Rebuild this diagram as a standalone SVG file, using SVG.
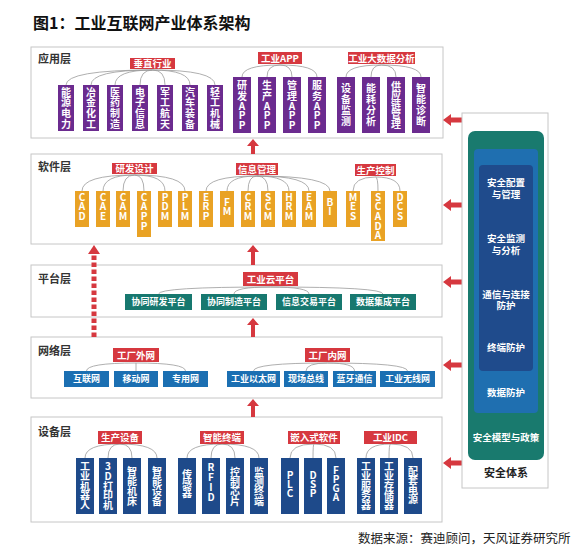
<svg xmlns="http://www.w3.org/2000/svg" width="579" height="550" viewBox="0 0 579 550">
<style>
text{font-family:"Noto Sans CJK SC","Noto Sans",sans-serif}
.lay{fill:#fff;stroke:#c6c6c6;stroke-width:1}
.lt{font-size:11px;font-weight:bold;fill:#333}
.tag{fill:#d6383f}
.tt{font-size:9.5px;font-weight:bold;fill:#fff;text-anchor:middle}
.pu{fill:#6b2b8f}
.or{fill:#e9a224}
.te{fill:#17786f}
.bl{fill:#1b6fb2}
.db{fill:#1e4a8a}
.vt{font-size:10px;font-weight:bold;fill:#fff;text-anchor:middle}
.ht{font-size:9px;font-weight:bold;fill:#fff;text-anchor:middle}
.cn{fill:none;stroke:#9a9a9a;stroke-width:0.8}
.arr{fill:#d6383f}
.st{font-size:9.5px;font-weight:bold;fill:#fff;text-anchor:middle}
</style>
<rect width="579" height="550" fill="#fff"/>
<text x="33" y="29" font-size="16" font-weight="bold" fill="#111">图1：工业互联网产业体系架构</text>

<!-- layers -->
<g id="layer-app"><rect class="lay" x="31" y="47" width="412" height="91"/><text class="lt" x="38" y="63">应用层</text></g>
<g id="layer-soft"><rect class="lay" x="31" y="154" width="411" height="90"/><text class="lt" x="38" y="171">软件层</text></g>
<g id="layer-plat"><rect class="lay" x="31" y="265" width="411" height="52"/><text class="lt" x="38" y="283">平台层</text></g>
<g id="layer-net"><rect class="lay" x="31" y="337" width="411" height="61"/><text class="lt" x="38" y="355">网络层</text></g>
<g id="layer-dev"><rect class="lay" x="31" y="417" width="411" height="105"/><text class="lt" x="38" y="436">设备层</text></g>

<!-- connectors -->
<g id="connectors">
<path class="cn" d="M152.5 70Q66 70 66 85M152.5 70Q91 70 91 85M152.5 70Q115 70 115 85M152.5 70Q140 70 140 85M152.5 70Q165 70 165 85M152.5 70Q190 70 190 85M152.5 70Q215 70 215 85"/>
<path class="cn" d="M280 65Q242 65 242 77M280 65Q267 65 267 77M280 65Q292 65 292 77M280 65Q317 65 317 77"/>
<path class="cn" d="M381.5 65Q346 65 346 77M381.5 65Q371 65 371 77M381.5 65Q396 65 396 77M381.5 65Q421 65 421 77"/>
<path class="cn" d="M134.5 175Q82 175 82 191M134.5 175Q103 175 103 191M134.5 175Q123 175 123 191M134.5 175Q144 175 144 191M134.5 175Q165 175 165 191M134.5 175Q185 175 185 191"/>
<path class="cn" d="M257 176Q206 176 206 191M257 176Q227 176 227 191M257 176Q248 176 248 191M257 176Q268 176 268 191M257 176Q289 176 289 191M257 176Q309 176 309 191M257 176Q330 176 330 191"/>
<path class="cn" d="M375.5 177Q353 177 353 191M375.5 177Q378 177 378 191M375.5 177Q400 177 400 191"/>
<path class="cn" d="M270.5 287Q158.5 287 158.5 294M270.5 287Q234 287 234 294M270.5 287Q309 287 309 294M270.5 287Q383 287 383 294"/>
<path class="cn" d="M136 363Q86.5 363 86.5 371M136 363L136 371M136 363Q185.5 363 185.5 371"/>
<path class="cn" d="M327.5 363Q253.5 363 253.5 371M327.5 363Q306 363 306 371M327.5 363Q354.5 363 354.5 371M327.5 363Q407.5 363 407.5 371"/>
<path class="cn" d="M120 444Q85 444 85 458M120 444Q108 444 108 458M120 444Q132 444 132 458M120 444Q157 444 157 458"/>
<path class="cn" d="M222 444Q187 444 187 458M222 444Q211 444 211 458M222 444Q235 444 235 458M222 444Q259 444 259 458"/>
<path class="cn" d="M314 444Q290 444 290 458M314 444Q313 444 313 458M314 444Q336 444 336 458"/>
<path class="cn" d="M390.5 444Q366 444 366 458M390.5 444Q389 444 389 458M390.5 444Q413 444 413 458"/>
<!-- up arrows -->
<polygon class="arr" points="253,139 247,146 251,146 251,154 255,154 255,146 259,146"/>
<polygon class="arr" points="253,245 247,252 251,252 251,265 255,265 255,252 259,252"/>
<polygon class="arr" points="253,318 247,325 251,325 251,337 255,337 255,325 259,325"/>
<polygon class="arr" points="253,399 247,406 251,406 251,417 255,417 255,406 259,406"/>
<line x1="94" y1="337" x2="94" y2="253" stroke="#d6383f" stroke-width="5" stroke-dasharray="4.5 2.5"/>
<polygon class="arr" points="94,245 88,254 100,254"/>
<!-- left arrows -->
<polygon class="arr" points="443,120 451,114 451,117.5 462,117.5 462,122.5 451,122.5 451,126"/>
<polygon class="arr" points="443,205 451,199 451,202.5 462,202.5 462,207.5 451,207.5 451,211"/>
<polygon class="arr" points="443,282 451,276 451,279.5 462,279.5 462,284.5 451,284.5 451,288"/>
<polygon class="arr" points="443,365 451,359 451,362.5 462,362.5 462,367.5 451,367.5 451,371"/>
<polygon class="arr" points="443,463 451,457 451,460.5 462,460.5 462,465.5 451,465.5 451,469"/>
</g>

<!-- application layer -->
<g id="tag-vertical"><rect class="tag" x="130" y="58" width="45" height="11"/><text class="tt" x="152.5" y="67">垂直行业</text></g>
<g id="app-1"><rect class="pu" x="58" y="85" width="16" height="46"/><text class="vt"><tspan x="66" y="95.5">能</tspan><tspan x="66" y="106.3">源</tspan><tspan x="66" y="117.1">电</tspan><tspan x="66" y="127.9">力</tspan></text></g>
<g id="app-2"><rect class="pu" x="83" y="85" width="16" height="46"/><text class="vt"><tspan x="91" y="95.5">冶</tspan><tspan x="91" y="106.3">金</tspan><tspan x="91" y="117.1">化</tspan><tspan x="91" y="127.9">工</tspan></text></g>
<g id="app-3"><rect class="pu" x="107" y="85" width="16" height="46"/><text class="vt"><tspan x="115" y="95.5">医</tspan><tspan x="115" y="106.3">药</tspan><tspan x="115" y="117.1">制</tspan><tspan x="115" y="127.9">造</tspan></text></g>
<g id="app-4"><rect class="pu" x="132" y="85" width="16" height="46"/><text class="vt"><tspan x="140" y="95.5">电</tspan><tspan x="140" y="106.3">子</tspan><tspan x="140" y="117.1">信</tspan><tspan x="140" y="127.9">息</tspan></text></g>
<g id="app-5"><rect class="pu" x="157" y="85" width="16" height="46"/><text class="vt"><tspan x="165" y="95.5">军</tspan><tspan x="165" y="106.3">工</tspan><tspan x="165" y="117.1">航</tspan><tspan x="165" y="127.9">天</tspan></text></g>
<g id="app-6"><rect class="pu" x="182" y="85" width="16" height="46"/><text class="vt"><tspan x="190" y="95.5">汽</tspan><tspan x="190" y="106.3">车</tspan><tspan x="190" y="117.1">装</tspan><tspan x="190" y="127.9">备</tspan></text></g>
<g id="app-7"><rect class="pu" x="207" y="85" width="16" height="46"/><text class="vt"><tspan x="215" y="95.5">轻</tspan><tspan x="215" y="106.3">工</tspan><tspan x="215" y="117.1">机</tspan><tspan x="215" y="127.9">械</tspan></text></g>

<g id="tag-app"><rect class="tag" x="258" y="52" width="44" height="12"/><text class="tt" x="280" y="61.5">工业APP</text></g>
<g id="app-rd"><rect class="pu" x="233" y="77" width="18" height="56"/><text class="vt"><tspan x="242" y="89">研</tspan><tspan x="242" y="99.5">发</tspan><tspan x="242" y="109.5">A</tspan><tspan x="242" y="119">P</tspan><tspan x="242" y="128.5">P</tspan></text></g>
<g id="app-prod"><rect class="pu" x="258" y="77" width="18" height="56"/><text class="vt"><tspan x="267" y="89">生</tspan><tspan x="267" y="99.5">产</tspan><tspan x="267" y="109.5">A</tspan><tspan x="267" y="119">P</tspan><tspan x="267" y="128.5">P</tspan></text></g>
<g id="app-mgmt"><rect class="pu" x="283" y="77" width="18" height="56"/><text class="vt"><tspan x="292" y="89">管</tspan><tspan x="292" y="99.5">理</tspan><tspan x="292" y="109.5">A</tspan><tspan x="292" y="119">P</tspan><tspan x="292" y="128.5">P</tspan></text></g>
<g id="app-svc"><rect class="pu" x="308" y="77" width="18" height="56"/><text class="vt"><tspan x="317" y="89">服</tspan><tspan x="317" y="99.5">务</tspan><tspan x="317" y="109.5">A</tspan><tspan x="317" y="119">P</tspan><tspan x="317" y="128.5">P</tspan></text></g>

<g id="tag-bigdata"><rect class="tag" x="348" y="52" width="67" height="12"/><text class="tt" x="381.5" y="61.5">工业大数据分析</text></g>
<g id="bd-1"><rect class="pu" x="337" y="77" width="18" height="56"/><text class="vt"><tspan x="346" y="92">设</tspan><tspan x="346" y="103">备</tspan><tspan x="346" y="114">监</tspan><tspan x="346" y="125">测</tspan></text></g>
<g id="bd-2"><rect class="pu" x="362" y="77" width="18" height="56"/><text class="vt"><tspan x="371" y="92">能</tspan><tspan x="371" y="103">耗</tspan><tspan x="371" y="114">分</tspan><tspan x="371" y="125">析</tspan></text></g>
<g id="bd-3"><rect class="pu" x="387" y="77" width="18" height="56"/><text class="vt" font-size="9.5"><tspan x="396" y="89.5">供</tspan><tspan x="396" y="99.1">应</tspan><tspan x="396" y="108.7">链</tspan><tspan x="396" y="118.3">管</tspan><tspan x="396" y="127.9">理</tspan></text></g>
<g id="bd-4"><rect class="pu" x="412" y="77" width="18" height="56"/><text class="vt"><tspan x="421" y="92">智</tspan><tspan x="421" y="103">能</tspan><tspan x="421" y="114">诊</tspan><tspan x="421" y="125">断</tspan></text></g>

<!-- software layer -->
<g id="tag-rd"><rect class="tag" x="112" y="163" width="45" height="11"/><text class="tt" x="134.5" y="172">研发设计</text></g>
<g id="sw-cad"><rect class="or" x="75" y="191" width="14" height="36"/><text class="vt"><tspan x="82" y="200.6">C</tspan><tspan x="82" y="210.3">A</tspan><tspan x="82" y="220">D</tspan></text></g>
<g id="sw-cae"><rect class="or" x="96" y="191" width="14" height="36"/><text class="vt"><tspan x="103" y="200.6">C</tspan><tspan x="103" y="210.3">A</tspan><tspan x="103" y="220">E</tspan></text></g>
<g id="sw-cam"><rect class="or" x="116" y="191" width="14" height="36"/><text class="vt"><tspan x="123" y="200.6">C</tspan><tspan x="123" y="210.3">A</tspan><tspan x="123" y="220">M</tspan></text></g>
<g id="sw-capp"><rect class="or" x="137" y="191" width="14" height="46"/><text class="vt"><tspan x="144" y="200.6">C</tspan><tspan x="144" y="210.3">A</tspan><tspan x="144" y="220">P</tspan><tspan x="144" y="229.7">P</tspan></text></g>
<g id="sw-pdm"><rect class="or" x="158" y="191" width="14" height="36"/><text class="vt"><tspan x="165" y="200.6">P</tspan><tspan x="165" y="210.3">D</tspan><tspan x="165" y="220">M</tspan></text></g>
<g id="sw-plm"><rect class="or" x="178" y="191" width="14" height="36"/><text class="vt"><tspan x="185" y="200.6">P</tspan><tspan x="185" y="210.3">L</tspan><tspan x="185" y="220">M</tspan></text></g>

<g id="tag-info"><rect class="tag" x="236" y="163" width="42" height="12"/><text class="tt" x="257" y="172.5">信息管理</text></g>
<g id="sw-erp"><rect class="or" x="199" y="191" width="14" height="36"/><text class="vt"><tspan x="206" y="200.6">E</tspan><tspan x="206" y="210.3">R</tspan><tspan x="206" y="220">P</tspan></text></g>
<g id="sw-fm"><rect class="or" x="220" y="191" width="14" height="36"/><text class="vt"><tspan x="227" y="205.6">F</tspan><tspan x="227" y="215.3">M</tspan></text></g>
<g id="sw-crm"><rect class="or" x="241" y="191" width="14" height="36"/><text class="vt"><tspan x="248" y="200.6">C</tspan><tspan x="248" y="210.3">R</tspan><tspan x="248" y="220">M</tspan></text></g>
<g id="sw-scm"><rect class="or" x="261" y="191" width="14" height="36"/><text class="vt"><tspan x="268" y="200.6">S</tspan><tspan x="268" y="210.3">C</tspan><tspan x="268" y="220">M</tspan></text></g>
<g id="sw-hrm"><rect class="or" x="282" y="191" width="14" height="36"/><text class="vt"><tspan x="289" y="200.6">H</tspan><tspan x="289" y="210.3">R</tspan><tspan x="289" y="220">M</tspan></text></g>
<g id="sw-eam"><rect class="or" x="302" y="191" width="14" height="36"/><text class="vt"><tspan x="309" y="200.6">E</tspan><tspan x="309" y="210.3">A</tspan><tspan x="309" y="220">M</tspan></text></g>
<g id="sw-bi"><rect class="or" x="323" y="191" width="14" height="36"/><text class="vt"><tspan x="330" y="205.6">B</tspan><tspan x="330" y="215.3">I</tspan></text></g>

<g id="tag-ctrl"><rect class="tag" x="355" y="164" width="41" height="12"/><text class="tt" x="375.5" y="173.5">生产控制</text></g>
<g id="sw-mes"><rect class="or" x="346" y="191" width="14" height="36"/><text class="vt"><tspan x="353" y="200.6">M</tspan><tspan x="353" y="210.3">E</tspan><tspan x="353" y="220">S</tspan></text></g>
<g id="sw-scada"><rect class="or" x="371" y="191" width="14" height="50"/><text class="vt"><tspan x="378" y="200.6">S</tspan><tspan x="378" y="210.3">C</tspan><tspan x="378" y="220">A</tspan><tspan x="378" y="229.7">D</tspan><tspan x="378" y="239.4">A</tspan></text></g>
<g id="sw-dcs"><rect class="or" x="393" y="191" width="14" height="36"/><text class="vt"><tspan x="400" y="200.6">D</tspan><tspan x="400" y="210.3">C</tspan><tspan x="400" y="220">S</tspan></text></g>

<!-- platform layer -->
<g id="tag-cloud"><rect class="tag" x="243" y="272" width="55" height="14"/><text class="tt" x="270.5" y="282.5" font-size="10">工业云平台</text></g>
<g id="pf-1"><rect class="te" x="125" y="294" width="67" height="16"/><text class="ht" x="158.5" y="305.3">协同研发平台</text></g>
<g id="pf-2"><rect class="te" x="201" y="294" width="66" height="16"/><text class="ht" x="234" y="305.3">协同制造平台</text></g>
<g id="pf-3"><rect class="te" x="276" y="294" width="66" height="16"/><text class="ht" x="309" y="305.3">信息交易平台</text></g>
<g id="pf-4"><rect class="te" x="350" y="294" width="66" height="16"/><text class="ht" x="383" y="305.3">数据集成平台</text></g>

<!-- network layer -->
<g id="tag-ext"><rect class="tag" x="113" y="348" width="46" height="14"/><text class="tt" x="136" y="358.5">工厂外网</text></g>
<g id="nw-1"><rect class="bl" x="64" y="371" width="45" height="16"/><text class="ht" x="86.5" y="382.3">互联网</text></g>
<g id="nw-2"><rect class="bl" x="114" y="371" width="44" height="16"/><text class="ht" x="136" y="382.3">移动网</text></g>
<g id="nw-3"><rect class="bl" x="163" y="371" width="45" height="16"/><text class="ht" x="185.5" y="382.3">专用网</text></g>
<g id="tag-int"><rect class="tag" x="305" y="348" width="45" height="14"/><text class="tt" x="327.5" y="358.5">工厂内网</text></g>
<g id="nw-4"><rect class="bl" x="227" y="371" width="53" height="16"/><text class="ht" x="253.5" y="382.3">工业以太网</text></g>
<g id="nw-5"><rect class="bl" x="284" y="371" width="44" height="16"/><text class="ht" x="306" y="382.3">现场总线</text></g>
<g id="nw-6"><rect class="bl" x="333" y="371" width="43" height="16"/><text class="ht" x="354.5" y="382.3">蓝牙通信</text></g>
<g id="nw-7"><rect class="bl" x="380" y="371" width="55" height="16"/><text class="ht" x="407.5" y="382.3">工业无线网</text></g>

<!-- device layer -->
<g id="tag-prod"><rect class="tag" x="98" y="431" width="44" height="13"/><text class="tt" x="120" y="441">生产设备</text></g>
<g id="dv-1"><rect class="db" x="76" y="458" width="18" height="56"/><text class="vt" font-size="9.5"><tspan x="85" y="470">工</tspan><tspan x="85" y="479.8">业</tspan><tspan x="85" y="489.6">机</tspan><tspan x="85" y="499.4">器</tspan><tspan x="85" y="509.2">人</tspan></text></g>
<g id="dv-2"><rect class="db" x="99" y="458" width="18" height="56"/><text class="vt" font-size="9.5"><tspan x="108" y="470">3</tspan><tspan x="108" y="479.8">D</tspan><tspan x="108" y="489.6">打</tspan><tspan x="108" y="499.4">印</tspan><tspan x="108" y="509.2">机</tspan></text></g>
<g id="dv-3"><rect class="db" x="123" y="458" width="18" height="56"/><text class="vt"><tspan x="132" y="474.6">智</tspan><tspan x="132" y="484.6">能</tspan><tspan x="132" y="494.6">机</tspan><tspan x="132" y="504.6">床</tspan></text></g>
<g id="dv-4"><rect class="db" x="148" y="458" width="18" height="56"/><text class="vt"><tspan x="157" y="474.6">智</tspan><tspan x="157" y="484.6">能</tspan><tspan x="157" y="494.6">设</tspan><tspan x="157" y="504.6">备</tspan></text></g>

<g id="tag-term"><rect class="tag" x="200" y="431" width="44" height="13"/><text class="tt" x="222" y="441">智能终端</text></g>
<g id="dv-5"><rect class="db" x="178" y="458" width="18" height="56"/><text class="vt"><tspan x="187" y="477.6">传</tspan><tspan x="187" y="487.2">感</tspan><tspan x="187" y="496.8">器</tspan></text></g>
<g id="dv-6"><rect class="db" x="202" y="458" width="18" height="56"/><text class="vt"><tspan x="211" y="470.6">R</tspan><tspan x="211" y="480.6">F</tspan><tspan x="211" y="490.6">I</tspan><tspan x="211" y="500.6">D</tspan></text></g>
<g id="dv-7"><rect class="db" x="226" y="458" width="18" height="56"/><text class="vt"><tspan x="235" y="476">控</tspan><tspan x="235" y="485.6">制</tspan><tspan x="235" y="495.2">芯</tspan><tspan x="235" y="504.8">片</tspan></text></g>
<g id="dv-8"><rect class="db" x="250" y="458" width="18" height="56"/><text class="vt"><tspan x="259" y="476">监</tspan><tspan x="259" y="485.6">测</tspan><tspan x="259" y="495.2">终</tspan><tspan x="259" y="504.8">端</tspan></text></g>

<g id="tag-emb"><rect class="tag" x="288" y="431" width="52" height="13"/><text class="tt" x="314" y="441">嵌入式软件</text></g>
<g id="dv-9"><rect class="db" x="281" y="458" width="18" height="56"/><text class="vt"><tspan x="290" y="478.6">P</tspan><tspan x="290" y="487.6">L</tspan><tspan x="290" y="496.6">C</tspan></text></g>
<g id="dv-10"><rect class="db" x="304" y="458" width="18" height="56"/><text class="vt"><tspan x="313" y="478.6">D</tspan><tspan x="313" y="487.6">S</tspan><tspan x="313" y="496.6">P</tspan></text></g>
<g id="dv-11"><rect class="db" x="327" y="458" width="18" height="56"/><text class="vt"><tspan x="336" y="473.6">F</tspan><tspan x="336" y="482.6">P</tspan><tspan x="336" y="491.6">G</tspan><tspan x="336" y="500.6">A</tspan></text></g>

<g id="tag-idc"><rect class="tag" x="364" y="431" width="53" height="13"/><text class="tt" x="390.5" y="441">工业IDC</text></g>
<g id="dv-12"><rect class="db" x="357" y="458" width="18" height="56"/><text class="vt" font-size="9.5"><tspan x="366" y="470">工</tspan><tspan x="366" y="479.8">业</tspan><tspan x="366" y="489.6">服</tspan><tspan x="366" y="499.4">务</tspan><tspan x="366" y="509.2">器</tspan></text></g>
<g id="dv-13"><rect class="db" x="380" y="458" width="18" height="56"/><text class="vt" font-size="9.5"><tspan x="389" y="470">工</tspan><tspan x="389" y="479.8">业</tspan><tspan x="389" y="489.6">存</tspan><tspan x="389" y="499.4">储</tspan><tspan x="389" y="509.2">器</tspan></text></g>
<g id="dv-14"><rect class="db" x="404" y="458" width="18" height="56"/><text class="vt"><tspan x="413" y="474.6">配</tspan><tspan x="413" y="484.1">套</tspan><tspan x="413" y="493.6">电</tspan><tspan x="413" y="503.1">源</tspan></text></g>

<!-- security panel -->
<g id="security">
<rect x="462" y="113" width="86" height="375" fill="#fff" stroke="#c6c6c6"/>
<rect x="468" y="131" width="76" height="329" rx="7" fill="#197a6e"/>
<rect x="474" y="149" width="64" height="264" rx="4" fill="#1f6fb0"/>
<rect x="479" y="165" width="54" height="206" rx="4" fill="#1f4b8c"/>
<text class="st" x="506" y="185.5">安全配置</text><text class="st" x="506" y="197.5">与管理</text>
<text class="st" x="506" y="241.5">安全监测</text><text class="st" x="506" y="253.5">与分析</text>
<text class="st" x="506" y="297.5">通信与连接</text><text class="st" x="506" y="308.5">防护</text>
<text class="st" x="506" y="350.5">终端防护</text>
<text class="st" x="506" y="395.5">数据防护</text>
<text class="st" x="506" y="440.5" font-size="9">安全模型与政策</text>
<text x="506" y="477" font-size="11" font-weight="bold" fill="#222" text-anchor="middle">安全体系</text>
</g>

<text x="358" y="543" font-size="12.5" fill="#222">数据来源：赛迪顾问，天风证券研究所</text>
</svg>
